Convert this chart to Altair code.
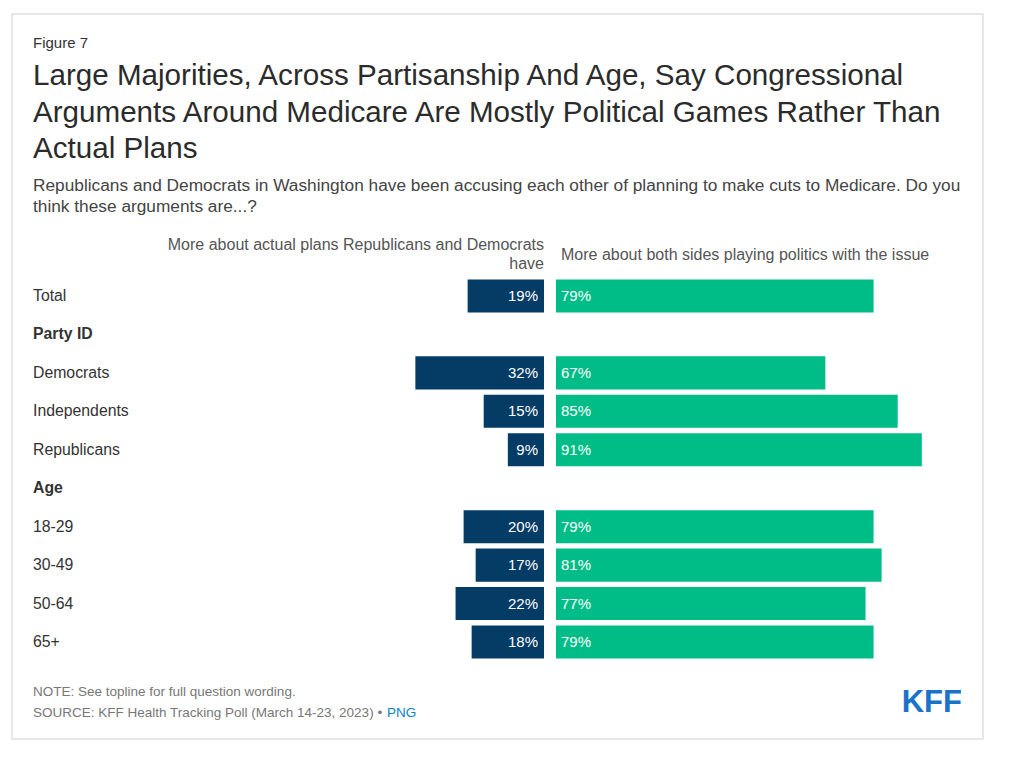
import altair as alt
import pandas as pd

# ---- data ----
rows = ["Total", "Party ID", "Democrats", "Independents", "Republicans",
        "Age", "18-29", "30-49", "50-64", "65+"]
header_rows = ["Party ID", "Age"]
categories = ["Total", "Democrats", "Independents", "Republicans",
              "18-29", "30-49", "50-64", "65+"]
actual_plans = [19, 32, 15, 9, 20, 17, 22, 18]
playing_politics = [79, 67, 85, 91, 79, 81, 77, 79]

series_left = ["More about actual plans Republicans and Democrats", "have"]
series_right = "More about both sides playing politics with the issue"

fig_label = "Figure 7"
title_lines = ["Large Majorities, Across Partisanship And Age, Say Congressional",
               "Arguments Around Medicare Are Mostly Political Games Rather Than",
               "Actual Plans"]
subtitle_lines = ["Republicans and Democrats in Washington have been accusing each other of planning to make cuts to Medicare. Do you",
                  "think these arguments are...?"]
note_text = "NOTE: See topline for full question wording."
source_text = "SOURCE: KFF Health Tracking Poll (March 14-23, 2023) \u2022"
png_text = "PNG"
logo_text = "KFF"

NAVY = "#053c66"
GREEN = "#00bd88"
FONT = "Liberation Sans"

df = pd.DataFrame({"row": categories, "plans": actual_plans, "politics": playing_politics})
df["neg"] = -df["plans"]
df["zero"] = 0
df["plans_lbl"] = df["plans"].astype(str) + "%"
df["politics_lbl"] = df["politics"].astype(str) + "%"

lab = pd.DataFrame({"row": rows, "is_header": [r in header_rows for r in rows]})

W, H = 971, 725
xscale = alt.Scale(domain=[-100, 100], range=[136, 940], nice=False, zero=False)
yscale = alt.Scale(domain=rows, range=[262.8, 647.2], paddingInner=0.14, paddingOuter=0.07)
Y = alt.Y("row:N", scale=yscale, axis=None, sort=rows)

left_bars = alt.Chart(df).mark_bar(color=NAVY, xOffset=-6, x2Offset=-6).encode(
    x=alt.X("neg:Q", scale=xscale, axis=None), x2="zero:Q", y=Y)
right_bars = alt.Chart(df).mark_bar(color=GREEN, xOffset=6, x2Offset=6).encode(
    x=alt.X("zero:Q", scale=xscale, axis=None), x2="politics:Q", y=Y)
left_txt = alt.Chart(df).mark_text(align="right", baseline="middle", dx=-12, color="white",
                                   fontSize=15, font=FONT).encode(
    x=alt.X("zero:Q", scale=xscale, axis=None), y=Y, text="plans_lbl:N")
right_txt = alt.Chart(df).mark_text(align="left", baseline="middle", dx=11, color="white",
                                    fontSize=15, font=FONT).encode(
    x=alt.X("zero:Q", scale=xscale, axis=None), y=Y, text="politics_lbl:N")

row_lbl = alt.Chart(lab).transform_filter("!datum.is_header").mark_text(
    align="left", baseline="middle", fontSize=15.8, font=FONT, color="#333333").encode(
    x=alt.value(21), y=Y, text="row:N")
hdr_lbl = alt.Chart(lab).transform_filter("datum.is_header").mark_text(
    align="left", baseline="middle", fontSize=15.8, font=FONT, fontWeight="bold", color="#333333").encode(
    x=alt.value(21), y=Y, text="row:N")

one = pd.DataFrame({"a": [0]})


def txt(text, x, y, size, color="#333333", align="left", weight="normal", lh=None, font=FONT):
    kw = dict(text=text, align=align, baseline="alphabetic", fontSize=size, color=color,
              fontWeight=weight, font=font)
    if lh is not None:
        kw["lineHeight"] = lh
    return alt.Chart(one).mark_text(**kw).encode(x=alt.value(x), y=alt.value(y))


layers = [
    left_bars, right_bars, left_txt, right_txt, row_lbl, hdr_lbl,
    txt(fig_label, 21, 34, 15),
    txt(title_lines, 21, 71, 29.6, color="#2b2b2b", lh=36.5),
    txt(subtitle_lines, 21, 177, 17.3, color="#444444", lh=21),
    txt(series_left, 532, 236, 16, color="#555555", align="right", lh=19),
    txt(series_right, 549, 246, 16, color="#555555"),
    txt(note_text, 21, 682, 13.5, color="#777777"),
    txt(source_text, 21, 703, 13.5, color="#777777"),
    txt(png_text, 375, 703, 13.5, color="#0a84c9"),
    txt(logo_text, 950, 698, 31, color="#1a72c9", align="right", weight="bold"),
]

chart = alt.layer(*layers).properties(
    width=W, height=H,
    padding={"left": 4, "top": 6, "right": 4, "bottom": 4},
    background="white",
).configure_view(stroke="#e0e0e0", strokeWidth=1.5)

chart.save("out.html", embed_options={"renderer": "svg", "actions": False})
